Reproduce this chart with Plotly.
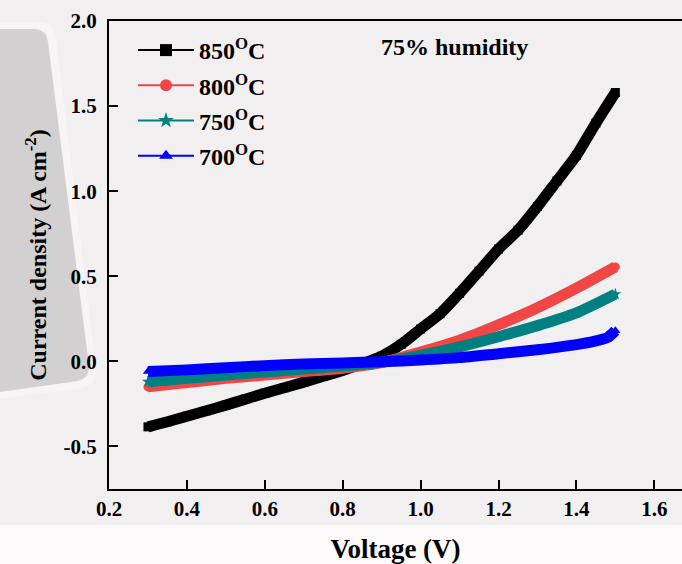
import plotly.graph_objects as go

# ---------------- data ----------------
v_850 = [0.30, 0.35, 0.40, 0.45, 0.50, 0.55, 0.60, 0.65, 0.70, 0.75, 0.80, 0.85,
         0.90, 0.95, 1.00, 1.05, 1.10, 1.15, 1.20, 1.25, 1.30, 1.35, 1.40, 1.45, 1.50]
j_850 = [-0.385, -0.355, -0.322, -0.29, -0.257, -0.222, -0.187, -0.155, -0.122, -0.088,
         -0.053, -0.015, 0.03, 0.10, 0.19, 0.28, 0.40, 0.53, 0.66, 0.77, 0.91, 1.06,
         1.21, 1.40, 1.58]

v_800 = [0.30, 0.40, 0.50, 0.60, 0.70, 0.80, 0.90, 1.00, 1.10, 1.20, 1.30, 1.40, 1.50]
j_800 = [-0.15, -0.125, -0.10, -0.08, -0.06, -0.04, -0.008, 0.055, 0.125, 0.215,
         0.315, 0.43, 0.555]

v_750 = [0.30, 0.40, 0.50, 0.60, 0.70, 0.80, 0.90, 1.00, 1.10, 1.20, 1.30, 1.40, 1.50]
j_750 = [-0.12, -0.10, -0.08, -0.062, -0.045, -0.027, -0.005, 0.035, 0.085, 0.145,
         0.21, 0.285, 0.395]

v_700 = [0.30, 0.40, 0.50, 0.60, 0.70, 0.80, 0.90, 1.00, 1.10, 1.20, 1.30, 1.40,
         1.45, 1.48, 1.50]
j_700 = [-0.06, -0.05, -0.037, -0.025, -0.016, -0.009, -0.002, 0.008, 0.022, 0.045,
         0.068, 0.098, 0.12, 0.14, 0.18]

series_names = ["850<sup>O</sup>C", "800<sup>O</sup>C", "750<sup>O</sup>C", "700<sup>O</sup>C"]
series_colors = ["#000000", "#f04646", "#008080", "#0000ff"]
series_symbols = ["square", "circle", "star", "triangle-up"]

x_tick_vals = [0.2, 0.4, 0.6, 0.8, 1.0, 1.2, 1.4, 1.6]
x_tick_text = ["0.2", "0.4", "0.6", "0.8", "1.0", "1.2", "1.4", "1.6"]
y_tick_vals = [-0.5, 0.0, 0.5, 1.0, 1.5, 2.0]
y_tick_text = ["-0.5", "0.0", "0.5", "1.0", "1.5", "2.0"]

x_title = "Voltage (V)"
y_title = "Current density (A cm<sup>-2</sup>)"
note_text = "75% humidity"

# ---------------- figure ----------------
W, H = 682, 564
ML, MR, MT, MB = 109, 0, 21, 75
PW, PH = W - ML - MR, H - MT - MB
FONT = "Liberation Serif, Times New Roman, serif"


def px(xp):
    return (xp - ML) / PW


def py(yp):
    return (H - MB - yp) / PH


fig = go.Figure()

data = [(v_850, j_850), (v_800, j_800), (v_750, j_750), (v_700, j_700)]
for (vx, jy), name, col, sym in zip(data, series_names, series_colors, series_symbols):
    fig.add_trace(go.Scatter(
        x=vx, y=jy, mode="lines+markers", showlegend=False,
        line=dict(color=col, width=11, shape="spline", smoothing=0.6),
        marker=dict(symbol=sym, size=9, color=col),
        hoverinfo="skip",
    ))

for i, (name, col, sym) in enumerate(zip(series_names, series_colors, series_symbols)):
    fig.add_trace(go.Scatter(
        x=[None], y=[None], mode="lines+markers", name=name,
        legendgroup="g%d" % i,
        line=dict(color=col, width=2),
        marker=dict(symbol=sym, size=12, color=col),
    ))

# background decorations
shapes = [
    dict(type="rect", xref="paper", yref="paper", layer="below",
         x0=px(0), x1=px(W), y0=py(525), y1=py(H),
         fillcolor="#fdfafb", line=dict(width=0)),
    dict(type="path", xref="paper", yref="paper", layer="below",
         path=("M {:.4f},{:.4f} L {:.4f},{:.4f} Q {:.4f},{:.4f} {:.4f},{:.4f} "
               "L {:.4f},{:.4f} Q {:.4f},{:.4f} {:.4f},{:.4f} L {:.4f},{:.4f} Z").format(
             px(0), py(22), px(40), py(22), px(54), py(22), px(56), py(38),
             px(96), py(368), px(98), py(384), px(82), py(388), px(0), py(399)),
         fillcolor="#f6f4f5", line=dict(width=0)),
    dict(type="path", xref="paper", yref="paper", layer="below",
         path=("M {:.4f},{:.4f} L {:.4f},{:.4f} Q {:.4f},{:.4f} {:.4f},{:.4f} "
               "L {:.4f},{:.4f} Q {:.4f},{:.4f} {:.4f},{:.4f} L {:.4f},{:.4f} Z").format(
             px(0), py(29), px(34), py(29), px(46), py(29), px(48), py(42),
             px(89), py(366), px(90), py(378), px(78), py(381), px(0), py(392)),
         fillcolor="#d2d0d1", line=dict(width=0)),
]

fig.update_layout(
    width=W, height=H,
    margin=dict(l=ML, r=MR, t=MT, b=MB, pad=0),
    paper_bgcolor="#f2eff0",
    plot_bgcolor="#f2eff0",
    font=dict(family=FONT, size=20, color="#000000", weight="bold"),
    shapes=shapes,
    showlegend=True,
    legend=dict(
        x=px(133), y=py(28), xanchor="left", yanchor="top",
        bgcolor="rgba(0,0,0,0)", borderwidth=0,
        font=dict(family=FONT, size=24, color="#000000", weight="bold"),
        itemwidth=56, tracegroupgap=1,
    ),
    annotations=[dict(
        x=px(454), y=py(47), xref="paper", yref="paper", text=note_text,
        showarrow=False, xanchor="center", yanchor="middle",
        font=dict(family=FONT, size=24, color="#000000", weight="bold"),
    )],
)

fig.update_xaxes(
    range=[0.2, 0.2 + PW / 389.5],
    tickvals=x_tick_vals, ticktext=x_tick_text,
    ticks="inside", ticklen=9, tickwidth=1.5, tickcolor="#000000",
    showline=True, linecolor="#000000", linewidth=2, mirror=True,
    showgrid=False, zeroline=False,
    tickfont=dict(family=FONT, size=21, weight="bold"),
    title=dict(text=x_title, font=dict(family=FONT, size=27, weight="bold"), standoff=19),
    automargin=False,
)
fig.update_yaxes(
    range=[-0.75, 2.0],
    tickvals=y_tick_vals, ticktext=y_tick_text,
    ticks="inside", ticklen=9, tickwidth=1.5, tickcolor="#000000",
    showline=True, linecolor="#000000", linewidth=2, mirror=False,
    showgrid=False, zeroline=False,
    tickfont=dict(family=FONT, size=21, weight="bold"),
    ticklabelstandoff=6,
    title=dict(text=y_title, font=dict(family=FONT, size=24, weight="bold"), standoff=10),
    automargin=False,
)

fig.write_html("out.html")
